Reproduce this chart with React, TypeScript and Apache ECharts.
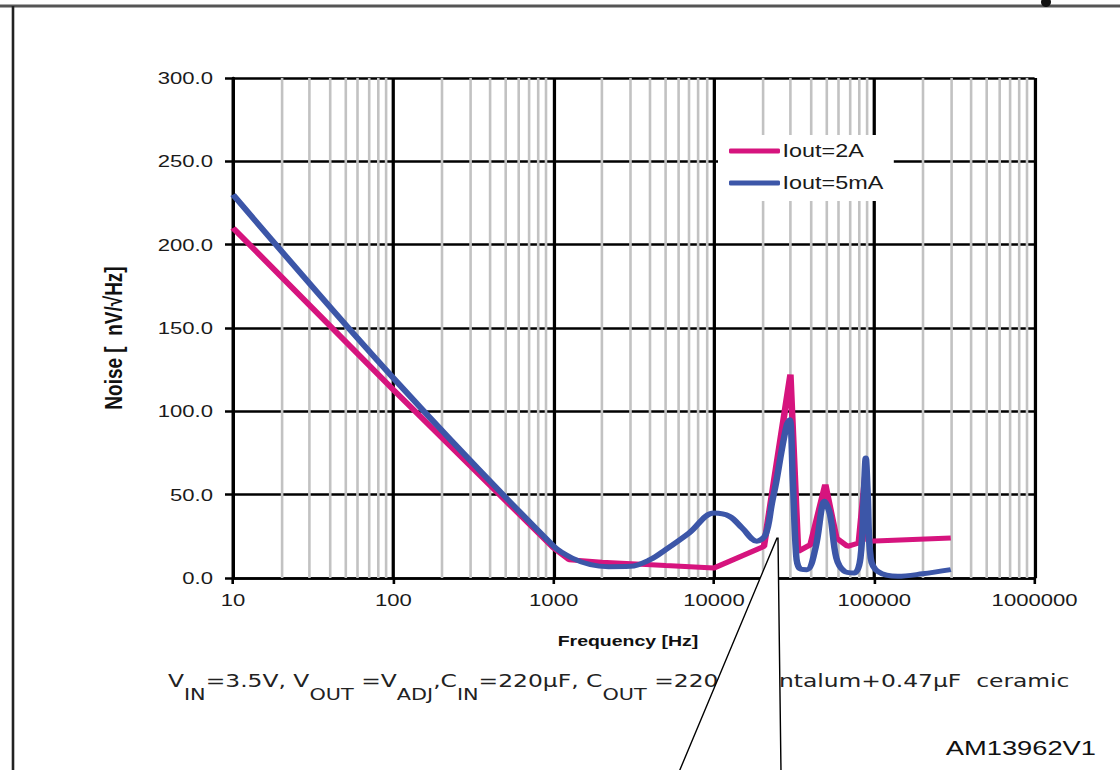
import React, { useEffect, useRef } from "react";
import * as echarts from "echarts";

const xTickValues = [10, 100, 1000, 10000, 100000, 1000000];
const yTickLabels = ["0.0", "50.0", "100.0", "150.0", "200.0", "250.0", "300.0"];
const seriesNames = ["Iout=2A", "Iout=5mA"];

const freq2A = [10, 100, 1000, 1250, 2000, 5000, 10000, 20500, 30000, 33500, 40000, 49500, 58000, 68000, 80000, 88000, 92000, 300000];
const noise2A = [210, 113, 18, 11, 9.5, 7.5, 6, 19, 122, 16, 20, 56, 24, 19, 21, 62, 22, 24];

const freq5mA = [10, 100, 1000, 1300, 1700, 2200, 3000, 4000, 5000, 7000, 10000, 12500, 15000, 18500, 21000, 23000, 24500, 26500, 28500, 29700, 31000, 32500, 34000, 38000, 43000, 49000, 53000, 58000, 65000, 75000, 82000, 86000, 88500, 91000, 95000, 105000, 140000, 200000, 300000];
const noise5mA = [230, 120, 19, 12, 8, 6.8, 7, 11, 17, 27, 39, 37, 30, 22, 26, 45, 58, 77, 92, 95, 60, 15, 6, 5, 18, 46, 38, 12, 4, 3, 12, 50, 72, 50, 12, 4, 1, 2.5, 5];

const minorMultipliers = [2, 3, 4, 5, 6, 7, 8, 9];
const decades = [10, 100, 1000, 10000, 100000];

const FONT = "Liberation Sans, Arial, sans-serif";
const VFONT = "DejaVu Sans, Verdana, sans-serif";
// the reference is horizontally stretched; the chart is drawn narrower and stretched by K
const K = 1.3;
const W = 1120 / K;
const X = (px: number) => px / K;

export default function App() {
  const ref = useRef<HTMLDivElement>(null);
  useEffect(() => {
    if (!ref.current) return;
    const chart = echarts.init(ref.current, undefined, { renderer: "svg" });
    const minorLines: number[] = [];
    decades.forEach((d) => minorMultipliers.forEach((m) => minorLines.push(d * m)));
    const option: any = {
      animation: false,
      backgroundColor: "#ffffff",
      grid: { left: X(233), right: X(1120 - 1034), top: 78, bottom: 192, containLabel: false },
      legend: {
        orient: "vertical",
        left: X(718),
        top: 135,
        z: 10,
        itemWidth: X(51),
        itemHeight: 5,
        itemGap: 14,
        icon: "roundRect",
        backgroundColor: "#ffffff",
        padding: [7, 8, 9, X(11)],
        textStyle: { fontSize: 18, fontFamily: FONT, color: "#1a1a1a", padding: [0, 0, 0, -3] },
        data: seriesNames,
      },
      xAxis: {
        type: "log",
        logBase: 10,
        min: 10,
        max: 1000000,
        axisLine: { show: true, lineStyle: { color: "#000", width: 2.5 } },
        axisTick: { show: true, length: 6, lineStyle: { color: "#000", width: 2 } },
        axisLabel: {
          margin: 13,
          fontSize: 17,
          fontFamily: FONT,
          color: "#1a1a1a",
          formatter: (v: number) => {
            const r = Math.round(v);
            const found = xTickValues.find((t) => Math.abs(t - r) / t < 1e-6);
            return found !== undefined ? String(found) : String(r);
          },
        },
        splitLine: { show: true, lineStyle: { color: "#000", width: 2.5 } },
        minorTick: { show: false },
        minorSplitLine: { show: false },
      },
      yAxis: {
        type: "value",
        min: 0,
        max: 300,
        interval: 50,
        axisLine: { show: true, lineStyle: { color: "#000", width: 2.5 } },
        axisTick: { show: true, length: X(8), lineStyle: { color: "#000", width: 2.5 } },
        axisLabel: {
          margin: X(20),
          fontSize: 17,
          fontFamily: FONT,
          color: "#1a1a1a",
          formatter: (v: number) => yTickLabels[Math.round(v / 50)] ?? v.toFixed(1),
        },
        splitLine: { show: true, lineStyle: { color: "#000", width: 2.5 } },
      },
      series: [
        {
          name: "minor-grid",
          type: "line",
          data: [],
          z: 1,
          silent: true,
          markLine: {
            z: 1,
            silent: true,
            symbol: ["none", "none"],
            label: { show: false },
            lineStyle: { color: "#c2c2c2", width: 2, type: "solid" },
            data: minorLines.map((v) => ({ xAxis: v })),
          },
        },
        {
          name: seriesNames[0],
          type: "line",
          data: freq2A.map((f, i) => [f, noise2A[i]]),
          showSymbol: false,
          symbol: "none",
          z: 3,
          lineStyle: { color: "#d6147e", width: 5 },
          itemStyle: { color: "#d6147e" },
        },
        {
          name: seriesNames[1],
          type: "line",
          data: freq5mA.map((f, i) => [f, noise5mA[i]]),
          showSymbol: false,
          symbol: "none",
          smooth: 0.35,
          z: 4,
          lineStyle: { color: "#3c56a8", width: 5 },
          itemStyle: { color: "#3c56a8" },
        },
      ],
      graphic: [
        { type: "line", z: 50, shape: { x1: 0, y1: 6, x2: W, y2: 6 }, style: { stroke: "#555", lineWidth: 3 } },
        { type: "line", z: 50, shape: { x1: X(13), y1: 6, x2: X(13), y2: 770 }, style: { stroke: "#222", lineWidth: 2 } },
        { type: "ellipse", z: 50, shape: { cx: X(1046), cy: 2, rx: X(5), ry: 5 }, style: { fill: "#111" } },
        {
          type: "text",
          z: 50,
          x: X(114),
          y: 338,
          rotation: Math.PI / 2,
          style: {
            text: "Noise [  nV/√Hz]",
            fontSize: 19,
            fontWeight: "bold",
            fontFamily: FONT,
            fill: "#111",
            align: "center",
            verticalAlign: "middle",
          },
        },
        {
          type: "text",
          z: 50,
          x: X(628),
          y: 641,
          style: {
            text: "Frequency [Hz]",
            fontSize: 15,
            fontWeight: "bold",
            fontFamily: FONT,
            fill: "#111",
            align: "center",
            verticalAlign: "middle",
          },
        },
        {
          type: "text",
          z: 50,
          x: X(168),
          y: 672,
          style: {
            text:
              "{n|V}{s|IN}{n|=3.5V, V}{s|OUT}{n| =V}{s|ADJ}{n|,C}{s|IN}{n|=220µF, C}{s|OUT}{n| =220µF Tantalum+0.47µF  ceramic}",
            align: "left",
            verticalAlign: "top",
            fill: "#222",
            rich: {
              n: { fontSize: 18, fontFamily: VFONT, fill: "#222", lineHeight: 22, verticalAlign: "top" },
              s: { fontSize: 16, fontFamily: VFONT, fill: "#222", lineHeight: 30, verticalAlign: "bottom" },
            },
          },
        },
        {
          type: "polygon",
          z: 60,
          shape: { points: [[X(777), 538], [X(679), 772], [X(781), 772], [X(778), 538]] },
          style: { fill: "#ffffff", stroke: "#000", lineWidth: 1.1 },
        },
        {
          type: "text",
          z: 50,
          x: X(1096),
          y: 748,
          style: {
            text: "AM13962V1",
            fontSize: 21,
            fontFamily: FONT,
            fill: "#111",
            align: "right",
            verticalAlign: "middle",
          },
        },
      ],
    };
    chart.setOption(option);
    return () => chart.dispose();
  }, []);
  return (
    <div
      ref={ref}
      style={{
        position: "fixed",
        left: 0,
        top: 0,
        width: W,
        height: 770,
        background: "#fff",
        transform: `scaleX(${K})`,
        transformOrigin: "0 0",
      }}
    />
  );
}
